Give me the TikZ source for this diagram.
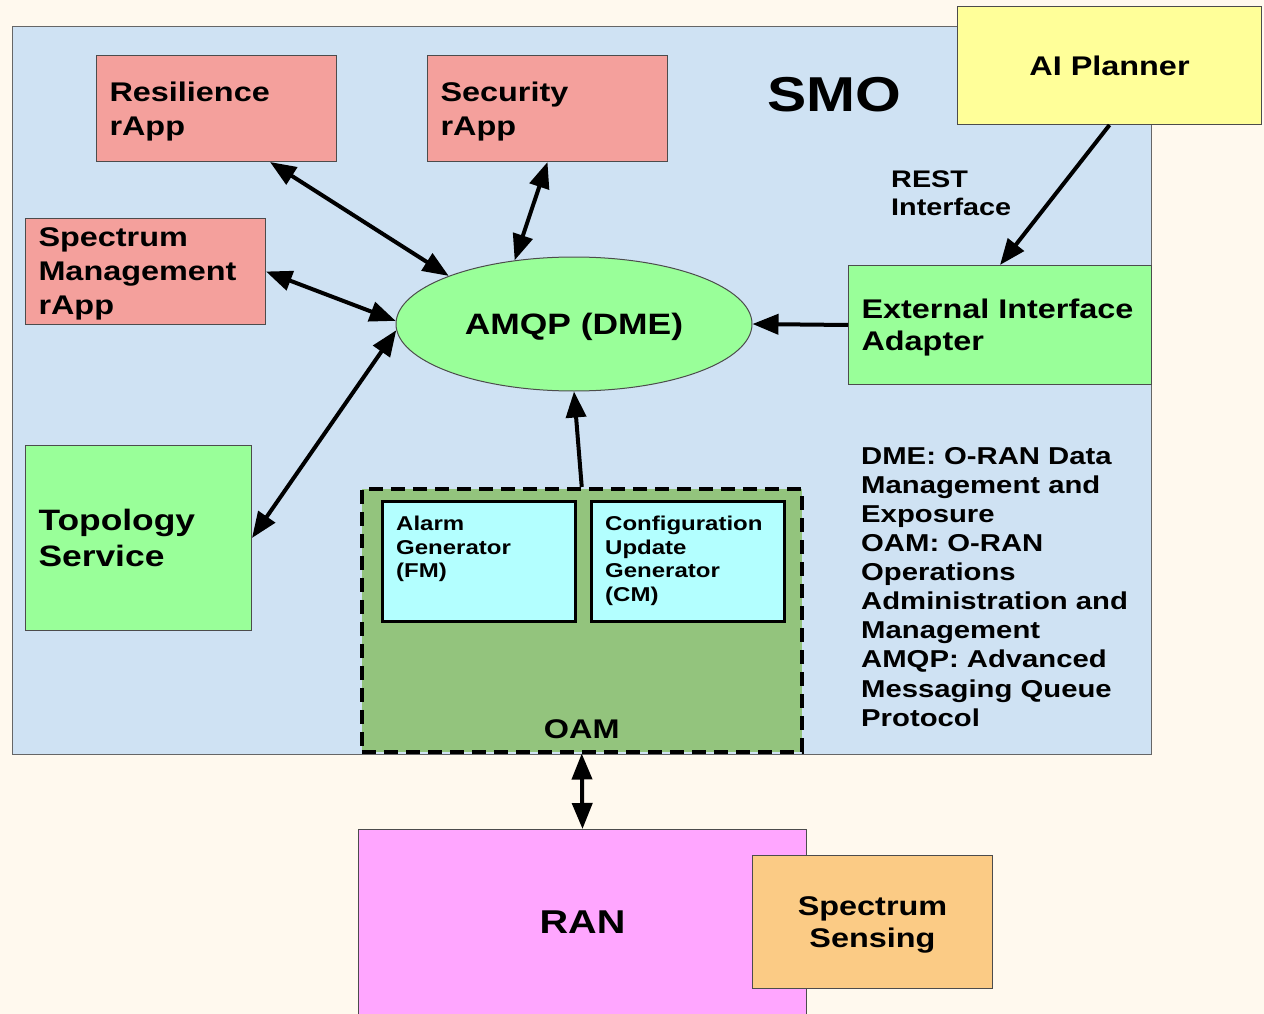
\documentclass[tikz,border=0pt]{standalone}
\usepackage{fontspec}
\setmainfont{Liberation Sans}[FakeStretch=1.2]
\usetikzlibrary{positioning, arrows.meta, shapes.geometric}

\definecolor{bgcream}{HTML}{FFF9EE}
\definecolor{smoblue}{HTML}{CFE2F3}
\definecolor{rapppink}{HTML}{F4A09C}
\definecolor{softgreen}{HTML}{99FF99}
\definecolor{planyellow}{HTML}{FFFF99}
\definecolor{oamgreen}{HTML}{93C47D}
\definecolor{gencyan}{HTML}{B3FFFF}
\definecolor{ranpink}{HTML}{FFA6FF}
\definecolor{senseorange}{HTML}{FBCB85}

\newcommand{\boxfont}{\fontsize{27}{34}\selectfont\bfseries}
\newcommand{\bigfont}{\fontsize{29.5}{36}\selectfont\bfseries}
\newcommand{\smofont}{\fontsize{49}{56}\selectfont\bfseries}
\newcommand{\notefont}{\fontsize{24.4}{29.1}\selectfont\bfseries}
\newcommand{\restfont}{\fontsize{24}{28}\selectfont\bfseries}
\newcommand{\genfont}{\fontsize{20}{23.5}\selectfont\bfseries}
\newcommand{\ranfont}{\fontsize{33}{38}\selectfont\bfseries}

\tikzset{
>={Triangle[length=26pt, width=20pt]}, % big filled heads on every connector
link/.style={line width=4pt}, % the connectors
boxbase/.style={draw=black!70, line width=1pt, anchor=north west, inner sep=0pt}, % plain boxes
rapp/.style={boxbase, fill=rapppink, minimum width=240, minimum height=106, text width=214, inner xsep=13, align=left, font=\boxfont, text depth=34pt},
greenbox/.style={boxbase, fill=softgreen, inner xsep=13, align=left},
genbox/.style={draw=black, line width=3pt, fill=gencyan, anchor=north west, minimum width=193, minimum height=120, inner sep=0pt},
gentext/.style={anchor=north west, align=left, font=\genfont, inner sep=0pt, xshift=15, yshift=-16},
}

\begin{document}
\begin{tikzpicture}[x=1pt, y=-1pt]
\useasboundingbox (0,0) rectangle (1264,1014);
\clip (0,0) rectangle (1264,1014);
\fill[bgcream] (0,0) rectangle (1264,1014);

% SMO frame and what sits in it
\node[boxbase, draw=black!60, fill=smoblue, minimum width=1139, minimum height=728] (smo) at (12,26) {};
\node[font=\smofont] (smolabel) at (834,95) {SMO};
\node[boxbase, fill=planyellow, minimum width=304, minimum height=118, font=\boxfont] (planner) at (957,6) {AI Planner};

\node[rapp] (resil) at (96,55) {Resilience\\rApp};
\node[rapp] (secur) at (427,55) {Security\\rApp};
\node[rapp, text depth=68pt] (spect) at (25,218) {Spectrum\\Management\\rApp};
\node[greenbox, minimum width=226, minimum height=185, text width=200, font=\bigfont] (topo) at (25,445) {Topology\\Service};

\node[ellipse, draw=black!70, line width=1pt, fill=softgreen, minimum width=356, minimum height=134, text depth=0pt, font=\bigfont] (amqp) at (574,324) {AMQP (DME)};
\node[greenbox, minimum width=303, minimum height=119, text width=277, text depth=32pt, font=\fontsize{27}{32}\selectfont\bfseries] (eia) at (848,265) {External Interface\\Adapter};
\node[anchor=north west, inner sep=0pt, align=left, font=\restfont] (rest) at (891,171) {REST\\Interface};

% OAM block
\node[draw=black, line width=3.5pt, dash pattern=on 14pt off 8pt, fill=oamgreen, anchor=north west, minimum width=440, minimum height=263, inner sep=0pt,
      label={[anchor=south, inner sep=0pt, yshift=15, font=\boxfont]south:OAM}] (oam) at (360,487) {};
\node[genbox, label={[gentext]north west:Alarm\\Generator\\(FM)}] (alarm) at (381,500) {};
\node[genbox, label={[gentext]north west:Configuration\\Update\\Generator\\(CM)}] (config) at (590,500) {};

\node[anchor=north west, inner sep=0pt, align=left, font=\notefont] (notes) at (861,447)
  {DME: O-RAN Data\\Management and\\Exposure\\OAM: O-RAN\\Operations\\Administration and\\Management\\AMQP: Advanced\\Messaging Queue\\Protocol};

% RAN side
\node[boxbase, fill=ranpink, minimum width=448, minimum height=186, font=\ranfont] (ran) at (358,829) {RAN};
\node[boxbase, fill=senseorange, minimum width=240, minimum height=133, align=center, text depth=0pt, font=\fontsize{27}{32}\selectfont\bfseries] (sense) at (752,855) {Spectrum\\Sensing};

\draw[link] (resil.-45) edge[<->] (amqp.159)
            (secur.south) edge[<->] (amqp.133)
            (spect.east) edge[<->] (amqp.179)
            (topo.east) edge[<->] (amqp.182);

\draw[link] (planner.south) edge[->] (eia.north)
            (eia.west) edge[->] (amqp.east)
            (oam.north) edge[->] (amqp.south)
            (oam.south) edge[<->] (ran.north);
\end{tikzpicture}
\end{document}
